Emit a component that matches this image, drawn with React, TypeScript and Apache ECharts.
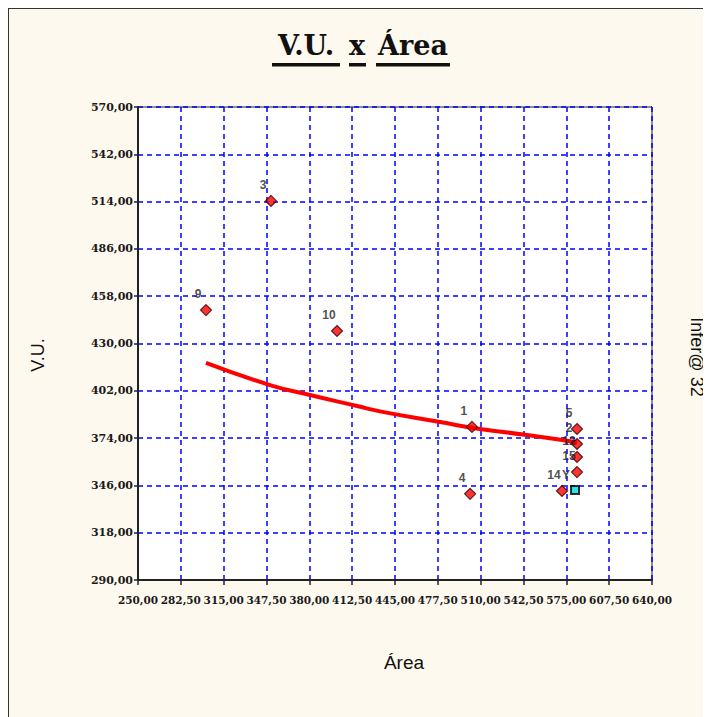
import React, { useEffect, useRef } from "react";
import * as echarts from "echarts";

// Surveyed samples: id, area and unit value (V.U.)
const sampleIds = ["1", "2", "3", "4", "5", "9", "10", "12", "14", "15"];
const sampleArea = [503.4, 583.1, 350.9, 502.0, 583.1, 301.6, 401.0, 583.1, 571.7, 583.1];
const sampleVu = [380.6, 370.5, 514.4, 341.0, 379.4, 449.8, 437.4, 362.8, 342.7, 353.9];

// Evaluated property
const targetLabel = ["Y"];
const targetArea = [581.6];
const targetVu = [343.3];

// Fitted regression curve
const curveArea = [301.6, 350.2, 380.5, 416.2, 433.6, 479.2, 509.5, 545.2, 583.1];
const curveVu = [418.5, 405.4, 399.5, 393.0, 389.8, 383.5, 379.4, 375.8, 371.5];

// Axis ranges and steps
const xMin = 250;
const xMax = 640;
const xStep = 32.5;
const yMin = 290;
const yMax = 570;
const yStep = 28;

const fmt = (v: number) => v.toFixed(2).replace(".", ",");

export default function App() {
  const ref = useRef<HTMLDivElement>(null);

  useEffect(() => {
    if (!ref.current) return;
    const chart = echarts.init(ref.current, undefined, { renderer: "svg" });

    const axisText = {
      fontFamily: "DejaVu Serif",
      fontSize: 11,
      fontWeight: "bold" as const,
      color: "#1a1a1a",
    };
    const pointLabel = {
      show: true,
      position: "top" as const,
      distance: 4,
      formatter: (p: any) => p.name,
      fontFamily: "Liberation Sans",
      fontSize: 12,
      fontWeight: "bold" as const,
      color: "#222",
    };

    chart.setOption({
      animation: false,
      backgroundColor: "#FEF9EE",
      grid: {
        left: 130,
        top: 99,
        width: 514,
        height: 473,
        show: true,
        backgroundColor: "#ffffff",
        borderColor: "#222",
        borderWidth: 1,
      },
      xAxis: {
        type: "value",
        min: xMin,
        max: xMax,
        interval: xStep,
        axisLine: { show: true, lineStyle: { color: "#222", width: 2 } },
        axisTick: { show: true, inside: false, length: 5, lineStyle: { color: "#222", width: 1.5 } },
        axisLabel: { ...axisText, fontSize: 10.5, margin: 14, formatter: fmt, interval: 0, hideOverlap: false, showMinLabel: true, showMaxLabel: true },
        splitLine: { show: true, lineStyle: { color: "#0000FF", width: 1.5, type: [5, 4] } },
      },
      yAxis: {
        type: "value",
        min: yMin,
        max: yMax,
        interval: yStep,
        axisLine: { show: true, lineStyle: { color: "#222", width: 2 } },
        axisTick: { show: true, inside: false, length: 4, lineStyle: { color: "#222", width: 1.5 } },
        axisLabel: { ...axisText, margin: 5, formatter: fmt, showMinLabel: true, showMaxLabel: true },
        splitLine: { show: true, lineStyle: { color: "#0000FF", width: 1.5, type: [5, 4] } },
      },
      series: [
        {
          type: "line",
          data: curveArea.map((a, i) => [a, curveVu[i]]),
          smooth: true,
          showSymbol: false,
          symbol: "none",
          lineStyle: { color: "#FF0000", width: 4 },
          z: 2,
        },
        {
          type: "scatter",
          data: sampleArea.map((a, i) => ({ value: [a, sampleVu[i]], name: sampleIds[i] })),
          symbol: "diamond",
          symbolSize: 11,
          itemStyle: {
            color: "#FF0000",
            borderColor: "#3a0000",
            borderWidth: 1.2,
          },
          label: { ...pointLabel, offset: [-8, 0] },
          z: 3,
        },
        {
          type: "scatter",
          data: targetArea.map((a, i) => ({ value: [a, targetVu[i]], name: targetLabel[i] })),
          symbol: "rect",
          symbolSize: 8,
          itemStyle: { color: "#00D8E0", borderColor: "#000", borderWidth: 2 },
          label: { ...pointLabel, offset: [-9, 0] },
          z: 4,
        },
      ],
      graphic: [
        // outer frame
        { type: "line", shape: { x1: 0.5, y1: 0, x2: 0.5, y2: 709 }, style: { stroke: "#333", lineWidth: 1 } },
        { type: "line", shape: { x1: 0, y1: 0.5, x2: 703, y2: 0.5 }, style: { stroke: "#333", lineWidth: 1 } },
        // title words with underlines
        {
          type: "text",
          x: 298,
          y: 51,
          style: { text: "V.U.", font: "bold 27px 'DejaVu Serif'", fill: "#111", textAlign: "center", textVerticalAlign: "bottom" },
        },
        { type: "rect", shape: { x: 264, y: 55, width: 68, height: 3.5 }, style: { fill: "#111" } },
        {
          type: "text",
          x: 349,
          y: 51,
          style: { text: "x", font: "bold 27px 'DejaVu Serif'", fill: "#111", textAlign: "center", textVerticalAlign: "bottom" },
        },
        { type: "rect", shape: { x: 341, y: 55, width: 17, height: 3.5 }, style: { fill: "#111" } },
        {
          type: "text",
          x: 405,
          y: 51,
          style: { text: "Área", font: "bold 27px 'DejaVu Serif'", fill: "#111", textAlign: "center", textVerticalAlign: "bottom" },
        },
        { type: "rect", shape: { x: 368, y: 55, width: 74, height: 3.5 }, style: { fill: "#111" } },
        // axis names
        {
          type: "text",
          x: 30,
          y: 347,
          rotation: Math.PI / 2,
          style: { text: "V.U.", font: "18px 'Liberation Sans'", fill: "#111", textAlign: "center", textVerticalAlign: "middle" },
        },
        {
          type: "text",
          x: 396,
          y: 654,
          style: { text: "Área", font: "19px 'Liberation Sans'", fill: "#111", textAlign: "center", textVerticalAlign: "middle" },
        },
        {
          type: "text",
          x: 689,
          y: 349,
          rotation: -Math.PI / 2,
          style: { text: "Infer@ 32", font: "18px 'Liberation Sans'", fill: "#111", textAlign: "center", textVerticalAlign: "middle" },
        },
      ],
    });

    return () => chart.dispose();
  }, []);

  return <div ref={ref} style={{ width: 703, height: 709 }} />;
}
